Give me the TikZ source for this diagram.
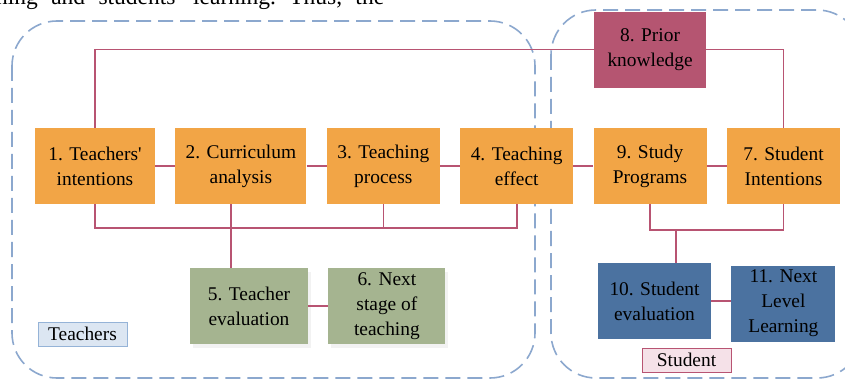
\documentclass[tikz,border=0pt]{standalone}
\usepackage{fontspec}
\setmainfont{Liberation Serif}
\usepackage{tikz}
\usetikzlibrary{positioning,shadows}
\definecolor{boxorange}{RGB}{242,165,70}
\definecolor{boxrose}{RGB}{181,85,113}
\definecolor{boxgreen}{RGB}{165,180,144}
\definecolor{boxblue}{RGB}{75,114,160}
\definecolor{linkrose}{RGB}{184,84,114}
\definecolor{groupblue}{RGB}{140,168,206}

\begin{document}
\begin{tikzpicture}[x=1pt,y=-1pt,
    box/.style={minimum height=76pt,inner sep=2pt,align=center,
                font=\fontsize{19.4}{25}\selectfont},
    obox/.style={box,fill=boxorange},
    rbox/.style={box,fill=boxrose},
    gbox/.style={box,fill=boxgreen,
                 drop shadow={shadow xshift=3pt,shadow yshift=-4pt,
                              fill=black!5,opacity=1}},
    bbox/.style={box,fill=boxblue},
    link/.style={draw=linkrose,line width=1.6pt},
    group/.style={draw=groupblue,line width=1.6pt,rounded corners=45pt,
                  dash pattern=on 15pt off 7pt},
    tag/.style={minimum width=89pt,minimum height=24pt,inner sep=1pt,
                line width=1pt,font=\fontsize{19.4}{24}\selectfont},
  ]
    \useasboundingbox (0,0) rectangle (845,379);
    \clip (0,0) rectangle (845,379);
    % line of the paper cut by the figure
    \node[anchor=base west,inner sep=0pt,font=\fontsize{23.5}{26}\selectfont\frenchspacing]
      (paper) at (-4,5) {\makebox[388pt][s]{ning and students\textquotesingle{} learning. Thus, the}};
    % dashed groups
    \draw[group] (12,21) rectangle (535,378);
    \draw[group] (551,10) rectangle (862,378);
    % teacher side
    \node[obox,minimum width=120pt] (n1) at (95,166) {1. Teachers\textquotesingle\\intentions};
    \node[obox,minimum width=131pt,right=20pt of n1] (n2) {2. Curriculum\\analysis};
    \node[obox,minimum width=113pt,right=20pt of n2] (n3) {3. Teaching\\process};
    \node[obox,minimum width=113pt,right=20pt of n3] (n4) {4. Teaching\\effect};
    % student side
    \node[obox,minimum width=113pt,right=20pt of n4] (n9) {9. Study\\Programs};
    \node[obox,minimum width=113pt,right=20pt of n9] (n7) {7. Student\\Intentions};
    \node[rbox,minimum width=112pt,above=40pt of n9] (n8) {8. Prior\\knowledge};
    % evaluations
    \node[gbox,minimum width=118pt] (n5) at (249,306) {5. Teacher\\evaluation};
    \node[gbox,minimum width=117pt,right=20pt of n5] (n6) {6. Next\\stage of\\teaching};
    \node[bbox,minimum width=113pt] (n10) at (654.5,301) {10. Student\\evaluation};
    \node[bbox,minimum width=104pt,right=20pt of n10,yshift=-2.5pt] (n11) {11. Next\\Level\\Learning};
    % group tags
    \node[tag,draw={rgb,255:red,149;green,179;blue,215},
          fill={rgb,255:red,220;green,230;blue,242}] (tteach) at (82.5,334) {Teachers};
    \node[tag,draw=linkrose,fill={rgb,255:red,245;green,225;blue,232}] (tstud) at (686.5,360) {Student};
    % row links
    \draw[link] (n1)--(n2); \draw[link] (n2)--(n3);
    \draw[link] (n3)--(n4); \draw[link] (n4)--(n9);
    \draw[link] (n9)--(n7);
    \draw[link] (n5)--(n6);
    \draw[link] (n10.east)--(n10.east -| n11.west);
    % prior knowledge
    \draw[link] (n1.north) |- (n8.west);
    \draw[link] (n8.east) -| (n7.north);
    % teacher bus
    \coordinate (tbus) at (0,228);
    \coordinate (tdrop) at (231,0);
    \draw[link] (n1.south) |- (tbus -| n4.south) -- (n4.south);
    \draw[link] (n3.south) -- (n3.south |- tbus);
    \draw[link] (n2.south -| tdrop) -- (n5.north -| tdrop);
    % student bus
    \coordinate (sbus) at (0,230);
    \coordinate (sdrop) at (676,0);
    \draw[link] (n9.south) |- (sbus -| n7.south) -- (n7.south);
    \draw[link] (sbus -| sdrop) -- (n10.north -| sdrop);
\end{tikzpicture}
\end{document}
